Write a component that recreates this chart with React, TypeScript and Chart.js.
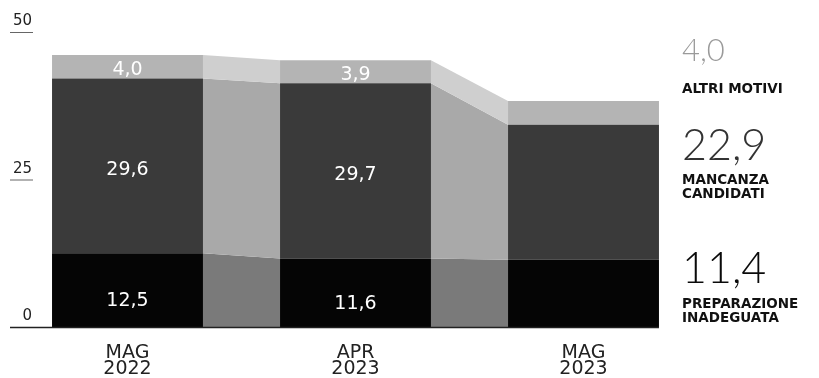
import React, { useEffect, useRef } from "react";
import { Chart, registerables } from "chart.js";

Chart.register(...registerables);

const categories: string[][] = [["MAG", "2022"], ["APR", "2023"], ["MAG", "2023"]];
const preparazione: number[] = [12.5, 11.6, 11.4];
const mancanza: number[] = [29.6, 29.7, 22.9];
const altri: number[] = [4.0, 3.9, 4.0];
const seriesNames: string[][] = [["PREPARAZIONE", "INADEGUATA"], ["MANCANZA", "CANDIDATI"], ["ALTRI MOTIVI"]];
const yTicks: number[] = [0, 25, 50];

const barColors = ["#050505", "#3a3a3a", "#b4b4b4"];
const connectorColors = ["#7a7a7a", "#a9a9a9", "#cfcfcf"];
const legendValueColors = ["#0a0a0a", "#333333", "#9a9a9a"];

const fmt = (v: number) => v.toFixed(1).replace(".", ",");

const customPlugin = {
  id: "custom",
  beforeDatasetsDraw(chart: any) {
    const ctx = chart.ctx;
    ctx.save();
    chart.data.datasets.forEach((ds: any, i: number) => {
      const meta = chart.getDatasetMeta(i);
      for (let j = 0; j < meta.data.length - 1; j++) {
        const a = meta.data[j];
        const b = meta.data[j + 1];
        const ax = a.x + a.width / 2;
        const bx = b.x - b.width / 2;
        ctx.beginPath();
        ctx.moveTo(ax, a.y);
        ctx.lineTo(bx, b.y);
        ctx.lineTo(bx, b.base);
        ctx.lineTo(ax, a.base);
        ctx.closePath();
        ctx.fillStyle = connectorColors[i];
        ctx.fill();
      }
    });
    ctx.restore();
  },
  afterDatasetsDraw(chart: any) {
    const ctx = chart.ctx;
    const y = chart.scales.y;
    ctx.save();
    // y ticks
    ctx.font = "15px 'DejaVu Sans'";
    ctx.fillStyle = "#222";
    ctx.textAlign = "right";
    ctx.textBaseline = "alphabetic";
    const lastMeta = chart.getDatasetMeta(0);
    const lastBar = lastMeta.data[lastMeta.data.length - 1];
    yTicks.forEach((t) => {
      const py = y.getPixelForValue(t);
      ctx.fillText(String(t), 32, py - 7);
      ctx.beginPath();
      ctx.strokeStyle = t === 0 ? "#222" : "#666";
      ctx.lineWidth = t === 0 ? 1.5 : 1;
      ctx.moveTo(10, py + 0.5);
      ctx.lineTo(t === 0 ? lastBar.x + lastBar.width / 2 : 33, py + 0.5);
      ctx.stroke();
    });
    // bar value labels (not on last category)
    const offsets = [11, 4, 3];
    ctx.font = "19px 'DejaVu Sans'";
    ctx.fillStyle = "#ffffff";
    ctx.textAlign = "center";
    ctx.textBaseline = "middle";
    chart.data.datasets.forEach((ds: any, i: number) => {
      const meta = chart.getDatasetMeta(i);
      meta.data.forEach((el: any, j: number) => {
        if (j === meta.data.length - 1) return;
        const cy = (el.y + el.base) / 2 + offsets[i];
        ctx.fillText(fmt(ds.data[j]), el.x, cy);
      });
    });
    // right legend
    ctx.textAlign = "left";
    ctx.textBaseline = "alphabetic";
    const lx = 682;
    const valueBase = [283, 160, 61];
    const valueSize = [43, 43, 31];
    const nameBase = [308, 184, 93];
    chart.data.datasets.forEach((ds: any, i: number) => {
      const v = ds.data[ds.data.length - 1];
      ctx.font = `300 ${valueSize[i]}px Lato`;
      ctx.fillStyle = legendValueColors[i];
      ctx.fillText(fmt(v), lx, valueBase[i]);
      ctx.font = "bold 13.5px 'DejaVu Sans'";
      ctx.fillStyle = "#111";
      seriesNames[i].forEach((line, k) => {
        ctx.fillText(line, lx, nameBase[i] + k * 14);
      });
    });
    ctx.restore();
  },
};

export default function App() {
  const ref = useRef<HTMLCanvasElement>(null);
  useEffect(() => {
    if (!ref.current) return;
    const chart = new Chart(ref.current, {
      type: "bar",
      data: {
        labels: categories,
        datasets: [
          { label: "Preparazione inadeguata", data: preparazione, backgroundColor: barColors[0] },
          { label: "Mancanza candidati", data: mancanza, backgroundColor: barColors[1] },
          { label: "Altri motivi", data: altri, backgroundColor: barColors[2] },
        ],
      },
      options: {
        animation: false,
        responsive: true,
        maintainAspectRatio: false,
        layout: { padding: { left: 13.5, right: 121.5, top: 32, bottom: 0 } },
        datasets: { bar: { barPercentage: 0.662, categoryPercentage: 1, borderWidth: 0 } },
        plugins: { legend: { display: false }, tooltip: { enabled: false } },
        scales: {
          x: {
            stacked: true,
            offset: true,
            grid: { display: false, drawTicks: false },
            border: { display: false },
            ticks: { font: { family: "'DejaVu Sans'", size: 19, lineHeight: 0.85 }, color: "#222", padding: 18 },
            afterFit: (s: any) => {
              s.height = 51;
            },
          },
          y: { stacked: true, display: false, min: 0, max: 50 },
        },
      },
      plugins: [customPlugin],
    });
    return () => chart.destroy();
  }, []);
  return (
    <div style={{ position: "fixed", left: 0, top: 0, width: 819, height: 378, background: "#fff" }}>
      <canvas ref={ref} />
    </div>
  );
}
